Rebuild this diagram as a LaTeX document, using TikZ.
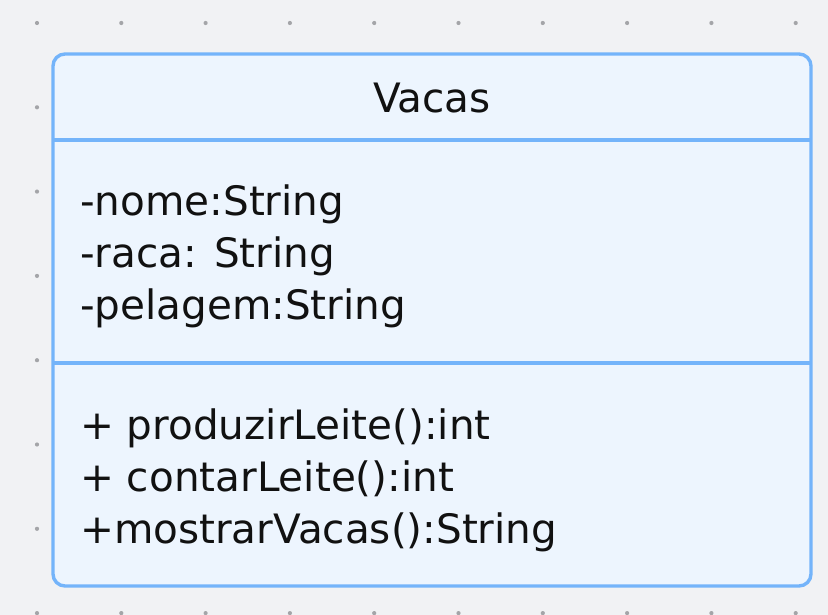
\documentclass[tikz,border=0pt]{standalone}
\usepackage{fontspec}
\setmainfont{DejaVu Sans}
\definecolor{bgc}{HTML}{F1F2F4}
\definecolor{dotc}{HTML}{A4A5A8}
\definecolor{edgec}{HTML}{74B4FA}
\definecolor{fillc}{HTML}{EDF5FE}
\definecolor{txtc}{HTML}{111111}
\begin{document}
\begin{tikzpicture}[x=1pt,y=-1pt,
  classbox/.style={draw=edgec,fill=fillc,line width=3.4pt,rounded corners=12pt},
  divider/.style={draw=edgec,line width=3.4pt},
  member/.style={anchor=base west,inner sep=0pt,text=txtc,font=\fontsize{40.5}{52}\selectfont},
  title/.style={anchor=base,inner sep=0pt,text=txtc,font=\fontsize{40.5}{52}\selectfont},
  griddot/.style={fill=dotc,draw=none}]
\fill[bgc] (0,0) rectangle (828,615);
\useasboundingbox (0,0) rectangle (828,615);
% dot grid
\foreach \i in {0,...,9} {
  \foreach \j in {0,...,7} {
    \fill[griddot] ({37+84.3*\i},{23+84.3*\j}) circle [radius=2.1pt];
  }
}
% class box
\path[classbox] (53,54) rectangle (811,586);
\coordinate (d1l) at (53,140);
\coordinate (d1r) at (811,140);
\coordinate (d2l) at (53,363);
\coordinate (d2r) at (811,363);
\draw[divider] (d1l) -- (d1r);
\draw[divider] (d2l) -- (d2r);
\node[title] (name) at (432,113) {Vacas};
\node[member] (a1) at (80,215) {-nome:String};
\node[member] (a2) at (80,267) {-raca: String};
\node[member] (a3) at (80,319) {-pelagem:String};
\node[member] (m1) at (80,439) {+ produzirLeite():int};
\node[member] (m2) at (80,491) {+ contarLeite():int};
\node[member] (m3) at (80,543) {+mostrarVacas():String};
\end{tikzpicture}
\end{document}
